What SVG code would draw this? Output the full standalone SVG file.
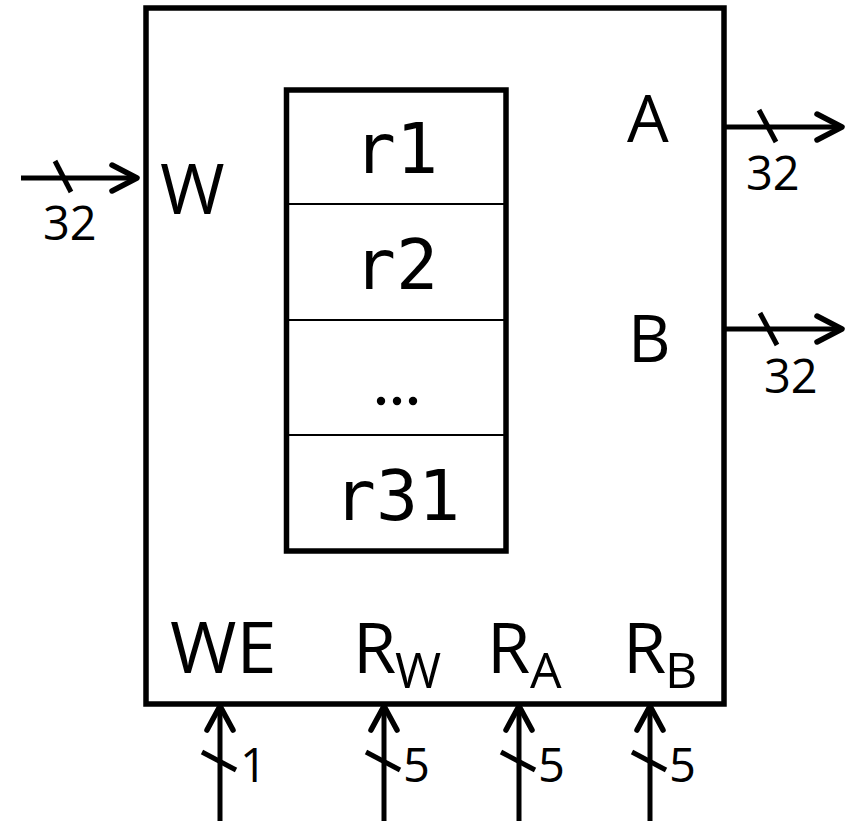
<svg xmlns="http://www.w3.org/2000/svg" width="850" height="821" viewBox="0 0 850 821">
<style>
.box{fill:none;stroke:#000;stroke-width:5.5}
.div{fill:none;stroke:#000;stroke-width:2}
.wire{fill:none;stroke:#000;stroke-width:5;stroke-linecap:butt}
.head{fill:none;stroke:#000;stroke-width:5.5;stroke-linecap:round;stroke-linejoin:round}
.slash{fill:none;stroke:#000;stroke-width:5;stroke-linecap:butt}
.lbl{font-family:"Open Sans","Liberation Sans",sans-serif;fill:#000}
.reg{font-family:"DejaVu Sans Mono","Liberation Mono",monospace;fill:#000;font-size:70px;text-anchor:middle}
.num{font-family:"Open Sans","Liberation Sans",sans-serif;fill:#000;font-size:47px}
</style>
<rect width="850" height="821" fill="#fff"/>
<g id="regfile">
<rect class="box" x="146" y="8" width="578" height="696"/>
<text class="lbl" x="160" y="214" font-size="70">W</text>
<text class="lbl" x="627" y="142" font-size="66">A</text>
<text class="lbl" x="628" y="362" font-size="66">B</text>
<text class="lbl" x="170" y="673" font-size="72">WE</text>
<text class="lbl" x="353" y="673" font-size="70">R<tspan x="395" y="688" font-size="50">W</tspan></text>
<text class="lbl" x="487" y="673" font-size="70">R<tspan x="530" y="688" font-size="50">A</tspan></text>
<text class="lbl" x="623" y="673" font-size="70">R<tspan x="665" y="688" font-size="50">B</tspan></text>
</g>
<g id="registers">
<rect class="box" x="286.5" y="90" width="219.5" height="461"/>
<line class="div" x1="286.5" y1="204" x2="506" y2="204"/>
<line class="div" x1="286.5" y1="320" x2="506" y2="320"/>
<line class="div" x1="286.5" y1="435" x2="506" y2="435"/>
<text class="reg" x="396" y="173">r1</text>
<text class="reg" x="396" y="289">r2</text>
<circle cx="381" cy="401" r="4.2"/><circle cx="397" cy="401" r="4.2"/><circle cx="413" cy="401" r="4.2"/>
<text class="reg" x="397" y="520">r31</text>
</g>
<g id="connectors">
<line class="wire" x1="21" y1="178" x2="136" y2="178"/>
<polyline class="head" points="112,165 137,178 112,191"/>
<line class="slash" x1="55" y1="161" x2="71" y2="192"/>
<text class="num" x="43" y="240">32</text>

<line class="wire" x1="724" y1="127" x2="841" y2="127"/>
<polyline class="head" points="817,114 842,127 817,140"/>
<line class="slash" x1="759" y1="110" x2="776" y2="142"/>
<text class="num" x="746" y="190">32</text>

<line class="wire" x1="724" y1="329" x2="841" y2="329"/>
<polyline class="head" points="817,316 842,329 817,342"/>
<line class="slash" x1="760" y1="313" x2="777" y2="345"/>
<text class="num" x="764" y="393">32</text>

<line class="wire" x1="220" y1="821" x2="220" y2="708"/>
<polyline class="head" points="207,730 220,706 233,730"/>
<line class="slash" x1="202" y1="752" x2="236" y2="770"/>
<text class="num" x="240" y="782">1</text>

<line class="wire" x1="384" y1="821" x2="384" y2="708"/>
<polyline class="head" points="371,730 384,706 397,730"/>
<line class="slash" x1="366" y1="752" x2="400" y2="770"/>
<text class="num" x="403" y="782">5</text>

<line class="wire" x1="519" y1="821" x2="519" y2="708"/>
<polyline class="head" points="506,730 519,706 532,730"/>
<line class="slash" x1="501" y1="752" x2="535" y2="770"/>
<text class="num" x="538" y="782">5</text>

<line class="wire" x1="650" y1="821" x2="650" y2="708"/>
<polyline class="head" points="637,730 650,706 663,730"/>
<line class="slash" x1="632" y1="752" x2="666" y2="770"/>
<text class="num" x="669" y="782">5</text>
</g>
</svg>
